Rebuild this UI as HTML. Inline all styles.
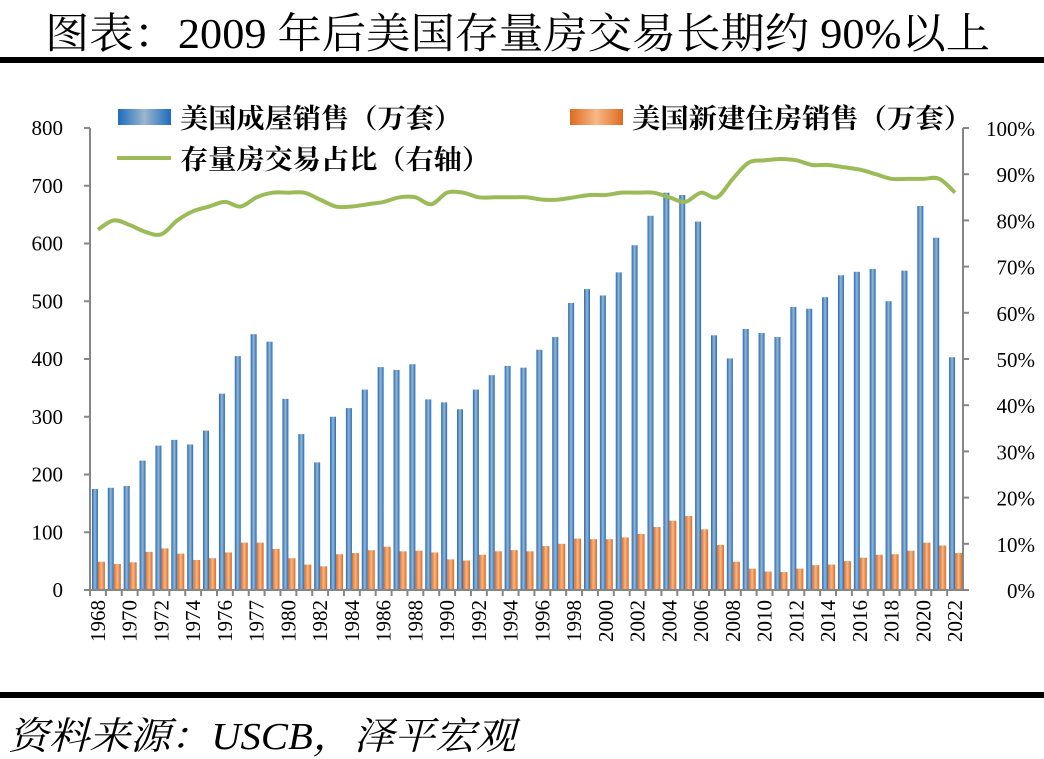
<!DOCTYPE html>
<html><head><meta charset="utf-8">
<style>
body{margin:0;width:1044px;height:759px;background:#fff;overflow:hidden;}
svg{display:block}
</style></head>
<body>
<svg width="1044" height="759" viewBox="0 0 1044 759">
<defs>
<linearGradient id="gb" x1="0" x2="1" y1="0" y2="0">
<stop offset="0" stop-color="#1f6bc0"/><stop offset="0.5" stop-color="#9ab6cc"/><stop offset="1" stop-color="#1f6bc0"/></linearGradient>
<linearGradient id="go" x1="0" x2="1" y1="0" y2="0">
<stop offset="0" stop-color="#e06a1e"/><stop offset="0.5" stop-color="#f6b888"/><stop offset="1" stop-color="#e06a1e"/></linearGradient>
</defs>
<text x="45" y="48" textLength="945" lengthAdjust="spacingAndGlyphs" font-family="'Liberation Serif','Noto Serif CJK SC',serif" font-size="42" fill="#000">图表：2009 年后美国存量房交易长期约 90%以上</text>
<rect x="0" y="57" width="1044" height="6" fill="#000"/>
<g id="plot"></g>
<g font-family="'Liberation Serif','Noto Serif CJK SC',serif" font-size="27" font-weight="bold">
<rect x="118" y="109" width="53" height="16" fill="url(#gb)"/>
<text x="180" y="128" textLength="282" lengthAdjust="spacingAndGlyphs">美国成屋销售（万套）</text>
<rect x="570" y="109" width="53" height="16" fill="url(#go)"/>
<text x="632" y="128" textLength="340" lengthAdjust="spacingAndGlyphs">美国新建住房销售（万套）</text>
<line x1="117" y1="158" x2="171" y2="158" stroke="#9bbb59" stroke-width="4"/>
<text x="180" y="169" textLength="310" lengthAdjust="spacingAndGlyphs">存量房交易占比（右轴）</text>
</g>
<rect x="0" y="692" width="1044" height="6" fill="#000"/>
<text x="8" y="749" textLength="508" lengthAdjust="spacingAndGlyphs" font-family="'Liberation Serif','Noto Serif CJK SC',serif" font-size="38" font-style="italic">资料来源：USCB，泽平宏观</text>
</svg>
<script>
const years=[1968,1969,1970,1971,1972,1973,1974,1975,1976,1977,1978,1979,1980,1981,1982,1983,1984,1985,1986,1987,1988,1989,1990,1991,1992,1993,1994,1995,1996,1997,1998,1999,2000,2001,2002,2003,2004,2005,2006,2007,2008,2009,2010,2011,2012,2013,2014,2015,2016,2017,2018,2019,2020,2021,2022];
const yearLabels=["1968","","1970","","1972","","1974","","1976","","1977","","1980","","1982","","1984","","1986","","1988","","1990","","1992","","1994","","1996","","1998","","2000","","2002","","2004","","2006","","2008","","2010","","2012","","2014","","2016","","2018","","2020","","2022"];
const existingSales=[175,177,180,224,250,260,252,276,340,405,443,430,331,270,221,300,315,347,386,381,391,330,325,313,347,372,388,385,416,438,497,521,510,550,597,648,688,684,638,441,401,452,445,438,490,487,507,545,551,556,500,553,665,610,403];
const newSales=[49,45,48,66,72,63,52,55,65,82,82,71,55,44,41,62,64,69,75,67,68,65,53,51,61,67,69,67,76,80,89,88,88,91,97,109,120,128,105,78,49,37,32,31,37,43,44,50,56,61,62,68,82,77,64];
const ratioPct=[78,80,79,77.5,77,80,82,83,84,83,85,86,86,86,84.5,83,83,83.5,84,85,85,83.5,86,86,85,85,85,85,84.5,84.5,85,85.5,85.5,86,86,86,85,84,86,85,89,92.5,93,93.3,93,92,92,91.5,91,90,89,89,89,89,86];
const leftTicks=[0,100,200,300,400,500,600,700,800];
const rightTicks=["0%","10%","20%","30%","40%","50%","60%","70%","80%","90%","100%"];
const NS="http://www.w3.org/2000/svg";
const g=document.getElementById('plot');
const X0=90,X1=963,Y0=590,Y1=128;
const cw=(X1-X0)/years.length;
const yL=v=>Y0-(v/800)*(Y0-Y1);
const yR=p=>Y0-(p/100)*(Y0-Y1);
const xC=i=>X0+cw*(i+0.5);
function mk(tag,attrs){const e=document.createElementNS(NS,tag);for(const k in attrs)e.setAttribute(k,attrs[k]);g.appendChild(e);return e;}
const F="'Liberation Serif','Noto Serif CJK SC',serif";
let e=mk('line',{x1:X0,y1:Y1,x2:X0,y2:Y0,stroke:'#868686','stroke-width':2});

e=mk('line',{x1:X1,y1:Y1,x2:X1,y2:Y0,stroke:'#868686','stroke-width':2});

leftTicks.forEach(v=>{
 const t=mk('line',{x1:X0-6,y1:yL(v),x2:X0,y2:yL(v),stroke:'#868686','stroke-width':2});
 
 const tx=mk('text',{x:X0-27,y:yL(v)+7,'text-anchor':'end','font-family':F,'font-size':21});
 tx.textContent=v;
 
});
rightTicks.forEach((s,i)=>{
 const y=yR(i*10);
 const t=mk('line',{x1:X1,y1:y,x2:X1+6,y2:y,stroke:'#868686','stroke-width':2});
 
 const tx=mk('text',{x:X1+72,y:y+8,'text-anchor':'end','font-family':F,'font-size':21});
 tx.textContent=s;
 
});
years.forEach((yr,i)=>{
 const c=xC(i);
 const b=mk('rect',{x:c-6,y:yL(existingSales[i]),width:6,height:Y0-yL(existingSales[i]),fill:'url(#gb)'});
 
 const o=mk('rect',{x:c,y:yL(newSales[i]),width:7,height:Y0-yL(newSales[i]),fill:'url(#go)'});
 
 const t=mk('line',{x1:X0+cw*i,y1:Y0,x2:X0+cw*i,y2:Y0+6,stroke:'#868686','stroke-width':2});
 
 if(yearLabels[i]){
  const tx=mk('text',{x:0,y:0,'text-anchor':'end','font-family':F,'font-size':21,transform:`translate(${c+7},${Y0+10}) rotate(-90)`});
  tx.textContent=yearLabels[i];
  
 }
});
e=mk('line',{x1:X0,y1:Y0,x2:X1,y2:Y0,stroke:'#868686','stroke-width':2});

const pts=ratioPct.map((p,i)=>[xC(i),yR(p)]);
let d='M'+pts[0][0]+','+pts[0][1];
for(let i=0;i<pts.length-1;i++){
 const p0=pts[i-1]||pts[i],p1=pts[i],p2=pts[i+1],p3=pts[i+2]||p2;
 const c1=[p1[0]+(p2[0]-p0[0])/6,p1[1]+(p2[1]-p0[1])/6],c2=[p2[0]-(p3[0]-p1[0])/6,p2[1]-(p3[1]-p1[1])/6];
 d+=` C${c1[0]},${c1[1]} ${c2[0]},${c2[1]} ${p2[0]},${p2[1]}`;
}
const ln=mk('path',{d:d,fill:'none',stroke:'#9bbb59','stroke-width':4,'stroke-linejoin':'round'});


</script>
</body></html>
